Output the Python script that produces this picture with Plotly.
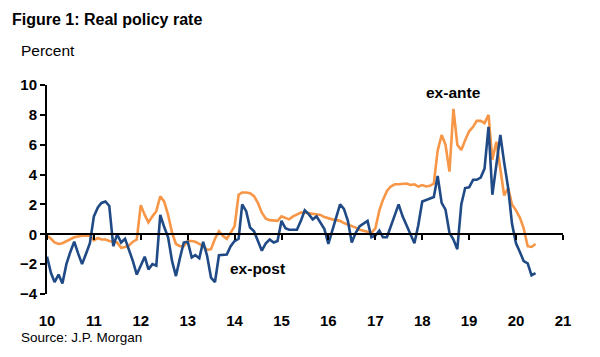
import pandas as pd
import plotly.graph_objects as go

# Monthly observations, Jan 2010 - Jun 2020
months = pd.date_range("2010-01-01", periods=126, freq="MS")

ex_ante = [
    -0.1, -0.3, -0.55, -0.65, -0.6, -0.45, -0.3, -0.2, -0.15, -0.1, -0.1, -0.1,
    -0.4, -0.25, -0.35, -0.35, -0.45, -0.5, -0.55, -0.9, -0.85, -0.75, -0.5, -0.35,
    1.95, 1.3, 0.8, 1.2, 1.55, 2.55, 2.2, 1.3, 0.1, -0.65, -0.8, -0.8,
    -0.45, -0.45, -0.5, -0.65, -0.8, -1.05, -1.0, -0.3, 0.2, -0.1, -0.3, 0.1,
    0.55, 2.65, 2.8, 2.8, 2.75, 2.55, 2.1, 1.45, 1.05, 0.95, 0.95, 0.9,
    1.2, 1.1, 1.0, 1.2, 1.3, 1.45, 1.45, 1.4, 1.4, 1.35, 1.3, 1.15,
    1.05, 1.0, 0.95, 0.9, 0.75, 0.65, 0.5, 0.45, 0.3, 0.25, 0.15, 0.1,
    0.4, 1.6, 2.3, 2.9, 3.2, 3.35, 3.35, 3.35, 3.4, 3.3, 3.35, 3.2,
    3.3, 3.2, 3.25, 3.4, 5.6, 6.65, 6.0, 4.2, 8.4, 6.0, 5.65, 6.3,
    6.9, 7.2, 7.6, 7.6, 7.45, 8.0, 5.0, 6.2, 4.45, 2.6, 3.1, 2.0,
    1.6, 1.1, 0.4, -0.8, -0.85, -0.65,
]

ex_post = [
    -1.5, -2.6, -3.2, -2.7, -3.3, -2.0, -1.2, -0.5, -1.3, -2.0, -1.3, -0.6,
    1.2, 1.8, 2.1, 2.2, 1.9, -0.8, 0.0, -0.55, -0.3, -1.0, -1.8, -2.7,
    -2.1, -1.5, -2.35, -2.0, -2.1, 1.3, 0.5, -0.2, -1.8, -2.8, -1.6, -0.55,
    -0.5, -1.55, -1.4, -1.6, -0.5, -1.45, -2.9, -3.2, -1.4, -1.4, -1.35, -0.8,
    -0.45, -0.3, 2.0, 1.55, 0.45, 0.2, -0.45, -1.1, -0.6, -0.35, -0.55, -0.45,
    0.9, 0.4, 0.3, 0.3, 0.3, 0.9, 1.6, 1.35, 1.0, 1.2, 0.8, 0.35,
    -0.65, 0.3, 1.2, 2.0, 1.7, 0.9, -0.55, 0.1, 0.55, 0.75, 0.9, -0.2,
    -0.1, 0.25, -0.2, -0.2, 0.55, 1.3, 2.0, 1.2, 0.6, 0.1, -0.6, 0.6,
    2.2, 2.3, 2.4, 2.5, 3.9, 2.1, 1.65, 0.1, -0.35, -1.0, 2.0, 3.1,
    3.15, 3.65, 3.65, 3.8, 4.4, 7.2, 2.65, 4.7, 6.65, 4.8, 3.1, 0.7,
    -0.6, -1.2, -1.8, -1.95, -2.75, -2.6,
]

year_ticks = pd.date_range("2010-01-01", "2021-01-01", freq="YS")
year_labels = ["10", "11", "12", "13", "14", "15", "16", "17", "18", "19", "20", "21"]
y_ticks = [-4, -2, 0, 2, 4, 6, 8, 10]

ORANGE = "#F79646"
BLUE = "#1F4A85"
FONT = "Liberation Sans, Arial, sans-serif"

fig = go.Figure()
fig.add_trace(go.Scatter(x=months, y=ex_ante, mode="lines", name="ex-ante",
                         line=dict(color=ORANGE, width=2.6), hoverinfo="x+y"))
fig.add_trace(go.Scatter(x=months, y=ex_post, mode="lines", name="ex-post",
                         line=dict(color=BLUE, width=2.6), hoverinfo="x+y"))
# invisible trace so the zero-line axis gets drawn
fig.add_trace(go.Scatter(x=months, y=ex_post, mode="lines", xaxis="x2", yaxis="y",
                         line=dict(color="rgba(0,0,0,0)", width=0), hoverinfo="skip",
                         showlegend=False))

x_range = [year_ticks[0], year_ticks[-1]]

fig.update_layout(
    width=600, height=357,
    margin=dict(l=37, r=45, t=77, b=71),
    paper_bgcolor="white", plot_bgcolor="white",
    showlegend=False,
    font=dict(family=FONT, color="black"),
    xaxis=dict(
        type="date", range=x_range,
        tickvals=year_ticks, ticktext=year_labels,
        ticks="outside", ticklen=13, tickcolor="rgba(0,0,0,0)",
        showline=False, showgrid=False, zeroline=False,
        tickfont=dict(family=FONT, size=15, weight="bold", color="black"),
    ),
    xaxis2=dict(
        type="date", range=x_range, overlaying="x", anchor="free",
        position=4 / 14,
        tickvals=year_ticks, showticklabels=False,
        ticks="outside", ticklen=5, tickwidth=2, tickcolor="black",
        showline=True, linecolor="black", linewidth=2,
        showgrid=False, zeroline=False,
    ),
    yaxis=dict(
        range=[-4, 10], tickvals=y_ticks,
        ticks="outside", ticklen=5, tickwidth=2, tickcolor="black",
        showline=True, linecolor="black", linewidth=2,
        showgrid=False, zeroline=False,
        tickfont=dict(family=FONT, size=15, weight="bold", color="black"),
    ),
    annotations=[
        dict(text="<b>Figure 1: Real policy rate</b>", xref="paper", yref="paper",
             x=-0.0714, y=1.315, xanchor="left", yanchor="middle", showarrow=False,
             font=dict(family=FONT, size=16, color="black")),
        dict(text="Percent", xref="paper", yref="paper",
             x=-0.054, y=1.165, xanchor="left", yanchor="middle", showarrow=False,
             font=dict(family=FONT, size=15.5, color="black")),
        dict(text="Source: J.P. Morgan", xref="paper", yref="paper",
             x=-0.054, y=-0.21, xanchor="left", yanchor="middle", showarrow=False,
             font=dict(family=FONT, size=13.5, color="black")),
        dict(text="<b>ex-ante</b>", x=months[104], y=9.5,
             xanchor="center", yanchor="middle", showarrow=False,
             font=dict(family=FONT, size=15.5, color="black")),
        dict(text="<b>ex-post</b>", x=months[54], y=-2.27,
             xanchor="center", yanchor="middle", showarrow=False,
             font=dict(family=FONT, size=15.5, color="black")),
    ],
)

fig.write_html("out.html")
